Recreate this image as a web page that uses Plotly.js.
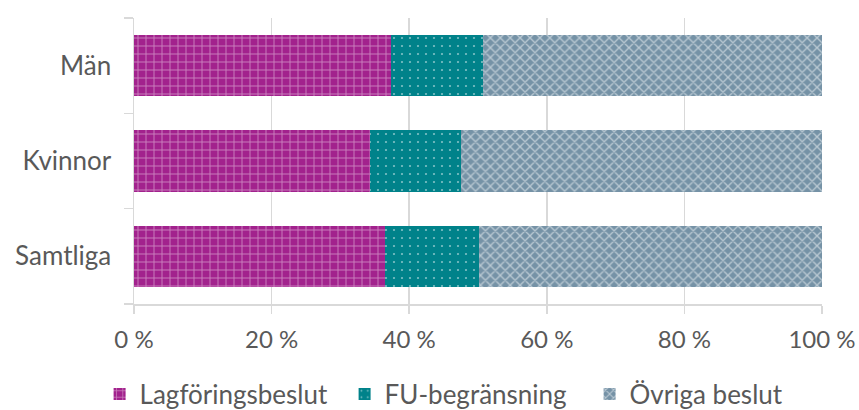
<!DOCTYPE html>
<html><head><meta charset="utf-8">
<script src="https://cdn.plot.ly/plotly-3.0.1.min.js"></script>
<style>html,body{margin:0;padding:0;background:#fff}</style>
</head><body>
<div id="chart" style="width:859px;height:410px"></div>
<script>
const categories = ["Samtliga", "Kvinnor", "Män"];
const lagforing = [36.5, 34.3, 37.4];
const fuBegransning = [13.6, 13.2, 13.3];
const ovriga = [49.9, 52.5, 49.3];
const seriesNames = ["Lagföringsbeslut", "FU-begränsning", "Övriga beslut"];
const xTicks = [0, 20, 40, 60, 80, 100];

const fontFam = 'Lato, "Open Sans", sans-serif';
const traces = [
  {name: seriesNames[0], x: lagforing, y: categories, type: 'bar', orientation: 'h',
   marker: {color: '#A2228D', line: {width: 0},
     pattern: {shape: '+', fillmode: 'overlay', fgcolor: '#f3dfee', bgcolor: '#A2228D', size: 8, solidity: 0.22}}},
  {name: seriesNames[1], x: fuBegransning, y: categories, type: 'bar', orientation: 'h',
   marker: {color: '#00828A', line: {width: 0},
     pattern: {shape: '.', fillmode: 'overlay', fgcolor: '#ffffff', bgcolor: '#00828A', size: 8, solidity: 0.06}}},
  {name: seriesNames[2], x: ovriga, y: categories, type: 'bar', orientation: 'h',
   marker: {color: '#7592A6', line: {width: 0},
     pattern: {shape: 'x', fillmode: 'overlay', fgcolor: '#ffffff', bgcolor: '#7592A6', size: 7, solidity: 0.35}}}
];
const layout = {
  barmode: 'stack', bargap: 0.36,
  width: 859, height: 410,
  margin: {l: 134, r: 37, t: 18, b: 106, autoexpand: false},
  paper_bgcolor: '#ffffff', plot_bgcolor: '#ffffff',
  font: {family: fontFam, size: 24, color: '#595959'},
  xaxis: {range: [0, 100], tickvals: xTicks, ticktext: xTicks.map(v => v + ' %'),
    showgrid: true, gridcolor: '#d9d9d9', gridwidth: 1.5, zeroline: false,
    showline: true, linecolor: '#d9d9d9', linewidth: 1.5,
    ticks: 'outside', ticklen: 8, tickcolor: '#d9d9d9', tickwidth: 1.5,
    ticklabelstandoff: 6,
    tickfont: {family: fontFam, size: 24, color: '#595959'}, fixedrange: true},
  yaxis: {type: 'category', categoryorder: 'array', categoryarray: categories,
    showgrid: false, zeroline: false, showline: true, linecolor: '#d9d9d9', linewidth: 1.5,
    ticks: 'outside', tickson: 'boundaries', ticklen: 9, tickcolor: '#d9d9d9', tickwidth: 1.5,
    ticklabelstandoff: 16,
    tickfont: {family: fontFam, size: 26, color: '#595959'}, fixedrange: true},
  legend: {orientation: 'h', x: -0.05, xanchor: 'left', y: -0.315, yanchor: 'middle',
    font: {family: fontFam, size: 26, color: '#595959'}, traceorder: 'normal',
    itemwidth: 30, entrywidth: 200, entrywidthmode: 'pixels', bgcolor: 'rgba(0,0,0,0)'},
  showlegend: true
};
Plotly.newPlot('chart', traces, layout, {displayModeBar: false, staticPlot: true});
</script>
</body></html>
